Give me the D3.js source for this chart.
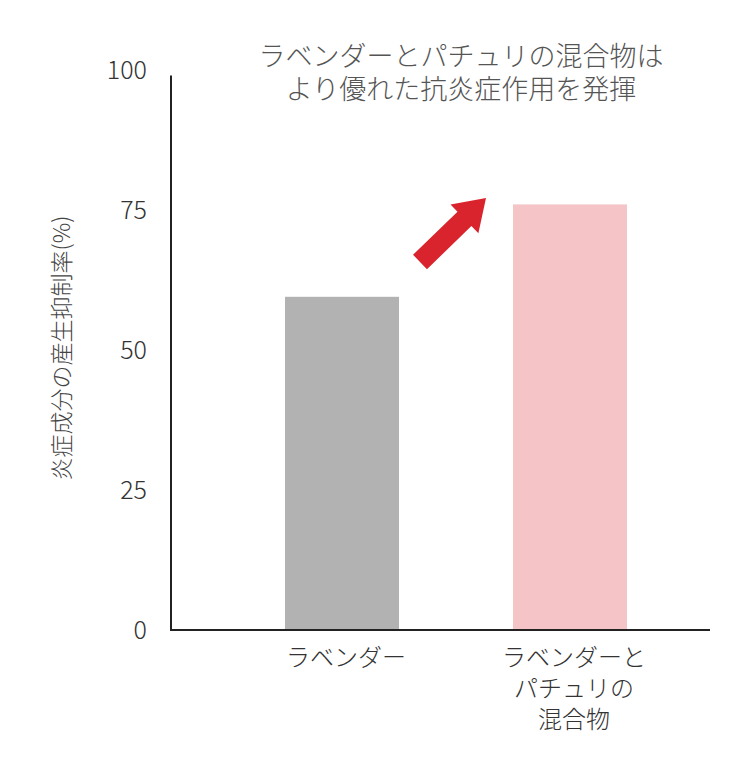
<!DOCTYPE html>
<html><head><meta charset="utf-8">
<script src="https://cdn.jsdelivr.net/npm/d3@7"></script>
<style>body{margin:0;background:#fff}text{font-family:"Noto Sans CJK JP","Noto Sans",sans-serif;font-weight:300}</style>
</head><body><svg id="c" width="750" height="760"></svg>
<script>
const categories = ["ラベンダー", "ラベンダーと\nパチュリの\n混合物"];
const values = [59.5, 76];
const colors = ["#b2b2b2", "#f4c4c6"];
const yTicks = [0, 25, 50, 75, 100];
const titleLines = ["ラベンダーとパチュリの混合物は", "より優れた抗炎症作用を発揮"];
const yLabel = "炎症成分の産生抑制率(%)";

const svg = d3.select("#c");
const y = d3.scaleLinear().domain([0, 100]).range([630, 70]);
const x = d3.scaleBand().domain(categories).range([228, 684]).paddingInner(0.5).paddingOuter(0.25);

svg.selectAll("rect.bar").data(values).join("rect")
  .attr("x", (d, i) => x(categories[i])).attr("width", x.bandwidth())
  .attr("y", d => y(d)).attr("height", d => y(0) - y(d))
  .attr("fill", (d, i) => colors[i]);

const g = svg.append("g").attr("transform", "translate(171,0)");
g.call(d3.axisLeft(y).tickValues(yTicks).tickSize(0).tickPadding(24));
g.select(".domain").attr("stroke", "#222").attr("stroke-width", 2).attr("d", `M0,${y(99)}V${y(0)}`);
g.selectAll(".tick text").attr("font-size", 25).attr("fill", "#333").attr("font-family", "'Noto Sans CJK JP',sans-serif");

svg.append("line").attr("x1", 170).attr("x2", 710).attr("y1", y(0)).attr("y2", y(0)).attr("stroke", "#222").attr("stroke-width", 2);

categories.forEach(c => {
  const t = svg.append("text").attr("text-anchor", "middle").attr("font-size", 24).attr("fill", "#333");
  c.split("\n").forEach((l, i) => t.append("tspan").attr("x", x(c) + x.bandwidth() / 2 + 4).attr("y", 666 + i * 31).text(l));
});

const tt = svg.append("text").attr("text-anchor", "middle").attr("font-size", 27).attr("fill", "#555");
titleLines.forEach((l, i) => tt.append("tspan").attr("x", 461).attr("y", 66 + i * 33).text(l));

svg.append("text").attr("transform", "translate(70,348) rotate(-90)").attr("text-anchor", "middle")
  .attr("font-size", 23).attr("fill", "#444").text(yLabel);

const x0 = 420, y0 = 262, x1 = 486, y1 = 198;
const ang = Math.atan2(y1 - y0, x1 - x0), L = Math.hypot(x1 - x0, y1 - y0);
const w = 10, hw = 20, hl = 30;
svg.append("polygon").attr("fill", "#d9232d")
  .attr("transform", `translate(${x0},${y0}) rotate(${ang * 180 / Math.PI})`)
  .attr("points", [[0,-w],[L-hl,-w],[L-hl,-hw],[L,0],[L-hl,hw],[L-hl,w],[0,w]].map(p => p.join(",")).join(" "));
</script></body></html>
